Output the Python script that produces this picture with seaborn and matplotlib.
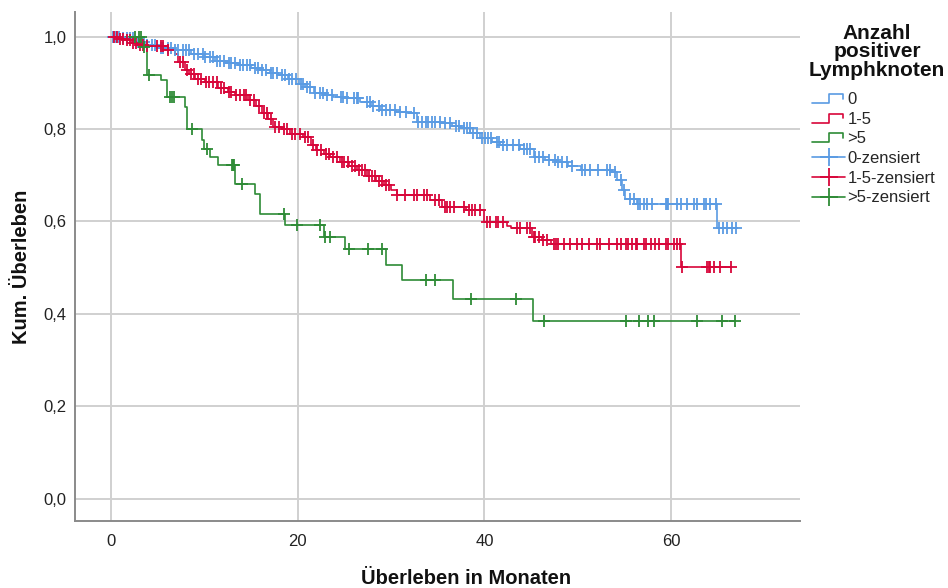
import numpy as np
import pandas as pd
import matplotlib
matplotlib.use("Agg")
import matplotlib.pyplot as plt
import seaborn as sns
from matplotlib.lines import Line2D
from matplotlib.legend_handler import HandlerBase

# ---------------------------------------------------------------------------
# Kaplan-Meier estimates per group: event times, survival after each step,
# and times of censored observations
# ---------------------------------------------------------------------------
groups = ["0", "1-5", ">5"]
colors = ["#5A9BE3", "#D8063A", "#2E8B36"]

time_0 = [0, 1.0, 2.5, 3.6, 5.0, 6.5, 8.6, 10.0, 11.1, 12.5, 13.6, 15.0, 15.8,
          17.0, 17.9, 19.0, 20.1, 20.8, 21.7, 22.8, 23.8, 25.0, 26.7, 27.8,
          28.8, 30.5, 31.7, 32.8, 35.3, 36.5, 37.4, 38.5, 39.5, 40.8, 41.7,
          43.8, 45.3, 46.5, 47.8, 49.0, 50.3, 53.5, 54.2, 54.7, 55.1, 56.3,
          64.9]
surv_0 = [1.0, 0.996, 0.988, 0.981, 0.975, 0.970, 0.963, 0.955, 0.948, 0.942,
          0.938, 0.931, 0.927, 0.921, 0.916, 0.907, 0.898, 0.891, 0.877, 0.873,
          0.870, 0.866, 0.859, 0.850, 0.842, 0.837, 0.834, 0.816, 0.813, 0.806,
          0.802, 0.792, 0.781, 0.772, 0.766, 0.757, 0.739, 0.733, 0.729, 0.720,
          0.711, 0.707, 0.689, 0.667, 0.649, 0.637, 0.585]
cens_0 = [0.2, 0.5, 0.9, 1.3, 1.7, 2.0, 2.4, 2.9, 3.2, 3.5, 3.9, 4.4, 4.7, 5.3,
          5.6, 6.1, 6.4, 6.9, 7.2, 7.7, 8.0, 8.4, 8.9, 9.3, 9.8, 10.1, 10.6,
          10.9, 11.4, 11.7, 12.1, 12.6, 12.9, 13.3, 13.8, 14.1, 14.6, 14.9,
          15.4, 15.7, 16.2, 16.6, 17.1, 17.4, 17.8, 18.3, 18.6, 19.1, 19.4,
          19.8, 20.3, 20.6, 21.0, 21.3, 21.9, 22.4, 22.7, 23.1, 23.7, 24.6,
          24.9, 25.3, 26.0, 26.3, 26.5, 27.4, 27.7, 28.1, 28.7, 29.0, 29.5,
          29.9, 30.4, 30.9, 31.6, 32.4, 32.9, 33.3, 33.7, 34.0, 34.4, 34.7,
          35.2, 35.8, 36.3, 37.0, 37.3, 37.8, 38.1, 38.4, 38.8, 39.2, 39.7,
          40.1, 40.4, 40.7, 41.3, 41.6, 42.0, 42.4, 43.1, 43.7, 44.2, 44.6,
          44.9, 45.4, 45.8, 46.3, 46.9, 47.6, 47.9, 48.3, 48.8, 49.4, 50.4,
          50.8, 51.3, 52.2, 53.1, 53.4, 54.0, 54.6, 55.0, 55.6, 56.0, 56.4,
          56.7, 57.1, 57.4, 58.0, 59.4, 59.6, 59.7, 60.6, 61.0, 61.7, 62.4,
          62.8, 63.5, 63.7, 64.2, 64.8, 65.1, 65.5, 66.0, 66.5, 66.9]

time_1 = [0, 0.8, 1.5, 2.2, 2.9, 3.6, 5.8, 6.9, 7.2, 7.9, 8.4, 9.0, 10.1, 11.5,
          12.5, 13.3, 14.7, 15.5, 16.2, 16.8, 17.4, 18.3, 19.2, 20.6, 21.4,
          22.0, 22.8, 23.5, 24.5, 25.5, 26.3, 27.4, 28.4, 29.2, 30.0, 30.6,
          34.2, 35.4, 38.0, 40.0, 42.4, 42.8, 45.1, 46.2, 47.1, 61.0]
surv_1 = [1.0, 0.995, 0.992, 0.986, 0.981, 0.979, 0.970, 0.963, 0.945, 0.927,
          0.918, 0.909, 0.902, 0.888, 0.880, 0.873, 0.862, 0.850, 0.835, 0.822,
          0.805, 0.800, 0.789, 0.782, 0.765, 0.754, 0.745, 0.739, 0.729, 0.720,
          0.711, 0.698, 0.688, 0.678, 0.667, 0.657, 0.647, 0.631, 0.624, 0.599,
          0.590, 0.585, 0.567, 0.560, 0.552, 0.502]
cens_1 = [0.3, 0.6, 1.0, 1.3, 1.7, 2.0, 2.4, 2.7, 3.1, 3.4, 3.8, 4.9, 5.3, 5.6,
          6.1, 7.4, 7.7, 8.1, 8.6, 8.9, 9.3, 9.6, 10.2, 10.5, 10.9, 11.3, 11.8,
          12.1, 12.6, 12.9, 13.4, 13.8, 14.2, 14.5, 14.9, 15.3, 15.8, 16.4,
          16.7, 17.1, 17.6, 18.0, 18.5, 18.9, 19.4, 19.7, 20.2, 20.8, 21.1,
          21.6, 22.1, 22.5, 23.0, 23.3, 23.8, 24.2, 24.7, 25.0, 25.4, 25.8,
          26.1, 26.6, 26.9, 27.2, 27.6, 28.0, 28.3, 28.7, 29.0, 29.5, 29.8,
          30.6, 31.5, 32.4, 32.8, 33.5, 33.8, 34.7, 35.1, 35.8, 36.0, 36.3,
          36.7, 37.8, 38.3, 38.7, 39.0, 39.5, 40.3, 40.6, 41.2, 41.5, 42.0,
          43.5, 43.8, 44.6, 44.9, 45.3, 45.4, 45.8, 46.3, 46.7, 47.4, 47.7,
          47.9, 48.5, 49.2, 49.9, 50.4, 51.2, 52.1, 52.4, 53.3, 54.2, 54.6,
          55.2, 55.4, 55.8, 56.2, 56.3, 57.1, 57.3, 57.8, 58.3, 58.7, 59.4,
          59.7, 60.3, 60.6, 60.9, 61.2, 63.8, 64.0, 64.2, 64.6, 65.2, 66.4]

time_2 = [0, 3.4, 3.8, 5.4, 6.0, 7.9, 8.1, 9.7, 10.0, 10.6, 11.5, 13.3, 15.4,
          16.0, 18.6, 22.8, 25.1, 29.5, 31.2, 36.6, 45.2]
surv_2 = [1.0, 0.978, 0.916, 0.906, 0.870, 0.848, 0.801, 0.777, 0.757, 0.739,
          0.721, 0.682, 0.660, 0.617, 0.592, 0.567, 0.540, 0.506, 0.473, 0.433,
          0.385]
cens_2 = [2.6, 3.0, 3.2, 3.5, 4.1, 6.3, 6.5, 6.7, 8.7, 10.3, 13.0, 13.1, 13.2,
          14.0, 18.5, 19.9, 22.4, 22.9, 23.5, 25.5, 27.5, 29.0, 33.7, 34.7,
          38.6, 43.4, 46.4, 55.2, 56.6, 57.5, 58.2, 62.8, 65.4, 66.8]

y_ticks = [0.0, 0.2, 0.4, 0.6, 0.8, 1.0]
y_tick_labels = ["0,0", "0,2", "0,4", "0,6", "0,8", "1,0"]
x_ticks = [0, 20, 40, 60]
legend_labels = ["0", "1-5", ">5", "0-zensiert", "1-5-zensiert", ">5-zensiert"]

# ---------------------------------------------------------------------------
# Long-form tables for seaborn
# ---------------------------------------------------------------------------
curves, marks = [], []
for g, t, s, c in zip(groups, [time_0, time_1, time_2],
                      [surv_0, surv_1, surv_2], [cens_0, cens_1, cens_2]):
    t = np.asarray(t, float)
    s = np.asarray(s, float)
    c = np.asarray(c, float)
    # step curve runs on to the last observation
    t_full = np.append(t, max(c.max(), t.max()))
    s_full = np.append(s, s[-1])
    curves.append(pd.DataFrame({"group": g, "time": t_full, "surv": s_full}))
    idx = np.searchsorted(t, c, side="right") - 1
    marks.append(pd.DataFrame({"group": g, "time": c, "surv": s[idx]}))
curves = pd.concat(curves, ignore_index=True)
marks = pd.concat(marks, ignore_index=True)

sns.set_style("white")
plt.rcParams["font.family"] = ["Liberation Sans", "DejaVu Sans"]

fig = plt.figure(figsize=(9.48, 5.88), dpi=100)
ax = fig.add_axes([75 / 948, 1 - 521 / 588, 725 / 948, 509 / 588])

palette = dict(zip(groups, colors))
for g in groups:
    sns.lineplot(data=curves[curves.group == g], x="time", y="surv",
                 color=palette[g], drawstyle="steps-post", estimator=None,
                 sort=False, linewidth=1.2, ax=ax, legend=False, zorder=3)
for g in groups:
    sns.scatterplot(data=marks[marks.group == g], x="time", y="surv",
                    color=palette[g], marker="+", s=85, linewidth=1.3,
                    ax=ax, legend=False, zorder=4)

ax.set_xlim(-3.86, 73.8)
ax.set_ylim(-0.048, 1.053)
ax.set_yticks(y_ticks)
ax.set_yticklabels(y_tick_labels)
ax.set_xticks(x_ticks)
ax.grid(True, color="#d0d0d0", linewidth=1.4)
ax.set_axisbelow(True)
ax.tick_params(axis="both", length=0, labelsize=12, colors="#222222")
ax.tick_params(axis="y", pad=6)
ax.tick_params(axis="x", pad=9)
for side in ["top", "right"]:
    ax.spines[side].set_visible(False)
for side in ["left", "bottom"]:
    ax.spines[side].set_color("#8a8a8a")
    ax.spines[side].set_linewidth(1.4)

ax.set_xlabel("Überleben in Monaten", fontsize=14.5, fontweight="bold",
              color="#111111")
ax.set_ylabel("Kum. Überleben", fontsize=14.5, fontweight="bold",
              color="#111111")
ax.xaxis.set_label_coords(0.539, -0.094)
ax.yaxis.set_label_coords(-0.060, 0.5)


# Legend: step-shaped icons for the curves, line with cross for censoring
class StepHandler(HandlerBase):
    def create_artists(self, legend, orig_handle, xdescent, ydescent,
                       width, height, fontsize, trans):
        x0 = -xdescent
        y0 = -ydescent
        xs = [x0, x0 + 0.5 * width, x0 + 0.5 * width, x0 + 0.93 * width,
              x0 + 0.93 * width]
        ys = [y0 + 0.1 * height, y0 + 0.1 * height, y0 + 0.85 * height,
              y0 + 0.85 * height, y0 + 0.45 * height]
        ln = Line2D(xs, ys, color=orig_handle.get_color(), linewidth=1.2,
                    transform=trans)
        return [ln]


class CensorHandler(HandlerBase):
    def create_artists(self, legend, orig_handle, xdescent, ydescent,
                       width, height, fontsize, trans):
        x0 = -xdescent
        y0 = -ydescent + 0.5 * height
        ln = Line2D([x0, x0 + width], [y0, y0], color=orig_handle.get_color(),
                    linewidth=1.2, transform=trans)
        mk = Line2D([x0 + 0.5 * width], [y0], color=orig_handle.get_color(),
                    marker="+", markersize=13, markeredgewidth=1.3,
                    linestyle="none", transform=trans)
        return [ln, mk]


class StepKey(Line2D):
    pass


class CensorKey(Line2D):
    pass


handles = [StepKey([], [], color=c) for c in colors] + \
          [CensorKey([], [], color=c) for c in colors]
fig.legend(handles, legend_labels, loc="upper left",
           bbox_to_anchor=(812 / 948, 1 - 92 / 588), frameon=False,
           fontsize=12, handlelength=2.0, handletextpad=0.12,
           labelspacing=0.28, borderaxespad=0, borderpad=0,
           handler_map={StepKey: StepHandler(), CensorKey: CensorHandler()})

fig.text(877 / 948, 1 - 24 / 588, "Anzahl\npositiver\nLymphknoten",
         ha="center", va="top", fontsize=15, fontweight="bold",
         linespacing=0.95, color="#111111")

fig.savefig("out.png", dpi=100)
